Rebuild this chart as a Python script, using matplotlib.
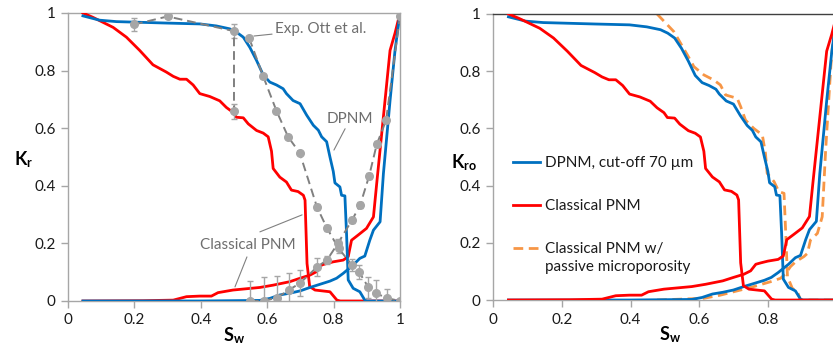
import matplotlib
matplotlib.use("Agg")
import matplotlib.pyplot as plt
from matplotlib.lines import Line2D

plt.rcParams['font.family'] = ['Lato', 'DejaVu Sans']
plt.rcParams['mathtext.fontset'] = 'custom'
plt.rcParams['mathtext.rm'] = 'Lato'
plt.rcParams['mathtext.bf'] = 'Lato:bold'
plt.rcParams['mathtext.it'] = 'Lato:italic'

# ---------------- data ----------------
# Classical PNM, oil relative permeability
sw_pnm_kro = [0.045, 0.075, 0.136, 0.176, 0.216, 0.256, 0.296, 0.317, 0.337, 0.357, 0.377, 0.397,
              0.427, 0.457, 0.477, 0.497, 0.507, 0.528, 0.543, 0.568, 0.588, 0.603, 0.613, 0.618,
              0.638, 0.658, 0.673, 0.693, 0.709, 0.714, 0.72, 0.728, 0.744, 0.789, 0.81, 0.82, 1.0]
kro_pnm = [1.0, 0.985, 0.95, 0.916, 0.87, 0.82, 0.795, 0.78, 0.77, 0.77, 0.75, 0.72,
           0.71, 0.695, 0.672, 0.655, 0.638, 0.636, 0.615, 0.592, 0.583, 0.57, 0.52, 0.46,
           0.43, 0.413, 0.385, 0.38, 0.367, 0.35, 0.13, 0.05, 0.038, 0.032, 0.003, 0.0, 0.0]
# Classical PNM, water relative permeability
sw_pnm_krw = [0.045, 0.226, 0.317, 0.357, 0.397, 0.432, 0.452, 0.497, 0.578, 0.618, 0.668, 0.699,
              0.729, 0.749, 0.764, 0.779, 0.799, 0.829, 0.844, 0.854, 0.874, 0.899, 0.92, 0.93,
              0.95, 0.97, 0.985, 1.0]
krw_pnm = [0.0, 0.001, 0.003, 0.015, 0.017, 0.017, 0.029, 0.038, 0.047, 0.055, 0.067, 0.079,
           0.09, 0.102, 0.125, 0.13, 0.136, 0.142, 0.154, 0.211, 0.229, 0.252, 0.292, 0.41,
           0.64, 0.87, 0.93, 1.0]
# DPNM (cut-off 70 um), oil
sw_dp_kro = [0.045, 0.095, 0.146, 0.296, 0.397, 0.447, 0.487, 0.508, 0.528, 0.548, 0.568, 0.588,
             0.608, 0.628, 0.648, 0.658, 0.678, 0.699, 0.719, 0.739, 0.754, 0.764, 0.779, 0.789,
             0.799, 0.804, 0.819, 0.824, 0.834, 0.839, 0.844, 0.859, 0.879, 0.894, 0.9, 1.0]
kro_dp = [0.99, 0.975, 0.97, 0.965, 0.962, 0.955, 0.945, 0.933, 0.916, 0.88, 0.835, 0.785,
          0.76, 0.75, 0.737, 0.72, 0.696, 0.685, 0.645, 0.61, 0.593, 0.57, 0.553, 0.5,
          0.45, 0.41, 0.396, 0.367, 0.365, 0.234, 0.073, 0.044, 0.032, 0.003, 0.0, 0.0]
# DPNM, water
sw_dp_krw = [0.045, 0.397, 0.578, 0.608, 0.638, 0.668, 0.699, 0.729, 0.759, 0.789, 0.809, 0.829,
             0.859, 0.879, 0.894, 0.909, 0.92, 0.94, 0.95, 0.97, 0.985, 1.0]
krw_dp = [0.0, 0.0, 0.002, 0.009, 0.021, 0.027, 0.035, 0.047, 0.058, 0.069, 0.079, 0.096,
          0.125, 0.148, 0.156, 0.211, 0.246, 0.275, 0.442, 0.696, 0.87, 1.0]
# Classical PNM with passive microporosity, oil
sw_mp_kro = [0.477, 0.526, 0.565, 0.584, 0.613, 0.642, 0.661, 0.676, 0.71, 0.72, 0.734, 0.758,
             0.783, 0.792, 0.797, 0.817, 0.831, 0.846, 0.851, 0.856, 0.87, 0.885, 0.894, 1.0]
kro_mp = [1.0, 0.938, 0.857, 0.816, 0.787, 0.769, 0.752, 0.717, 0.705, 0.676, 0.629, 0.6,
          0.577, 0.513, 0.443, 0.414, 0.379, 0.373, 0.233, 0.082, 0.041, 0.029, 0.0, 0.0]
# Classical PNM with passive microporosity, water
sw_mp_krw = [0.477, 0.613, 0.661, 0.7, 0.72, 0.758, 0.807, 0.836, 0.851, 0.865, 0.88, 0.904,
             0.914, 0.923, 0.943, 0.957, 0.967, 0.982, 0.991, 1.0]
krw_mp = [0.0, 0.006, 0.017, 0.029, 0.035, 0.047, 0.064, 0.076, 0.093, 0.117, 0.134, 0.152,
          0.163, 0.21, 0.233, 0.291, 0.524, 0.816, 0.944, 1.0]
# Experiments (Ott et al.)
exp_sw_kro_a = [0.199, 0.3, 0.5, 0.5]
exp_kro_a = [0.96, 0.988, 0.937, 0.658]
exp_err_kro_a = [0.022, 0.005, 0.025, 0.025]
exp_sw_kro_b = [0.546, 0.588, 0.628, 0.663, 0.698, 0.75, 0.78, 0.815, 0.855, 0.877, 0.905, 0.928, 0.96, 1.0]
exp_kro_b = [0.912, 0.78, 0.66, 0.57, 0.514, 0.326, 0.253, 0.183, 0.125, 0.1, 0.047, 0.027, 0.01, 0.0]
exp_err_kro_b = [0.005, 0.005, 0.005, 0.005, 0.005, 0.01, 0.01, 0.015, 0.02, 0.025, 0.035, 0.045, 0.03, 0.0]
exp_sw_krw = [0.548, 0.59, 0.63, 0.665, 0.699, 0.75, 0.78, 0.813, 0.855, 0.88, 0.907, 0.93, 0.958, 1.0]
exp_krw = [0.0, 0.0, 0.012, 0.038, 0.062, 0.118, 0.142, 0.2, 0.28, 0.333, 0.434, 0.544, 0.627, 0.99]
exp_err_krw = [0.07, 0.085, 0.075, 0.058, 0.045, 0.03, 0.015, 0.015, 0.01, 0.01, 0.01, 0.01, 0.01, 0.01]

ticks = [0, 0.2, 0.4, 0.6, 0.8, 1]
tick_labels = ['0', '0.2', '0.4', '0.6', '0.8', '1']
legend_labels = ['DPNM, cut-off 70 µm', 'Classical PNM', 'Classical PNM w/']
legend_label_2nd_line = 'passive microporosity'

BLUE = '#0070C0'
RED = '#FF0000'
ORANGE = '#F79646'
GRAY_M = '#A6A6A6'
GRAY_L = '#808080'
TXT_G = '#6E6E6E'
SPINE = '#A6A6A6'

fig = plt.figure(figsize=(8.33, 3.47), dpi=100)
axL = fig.add_axes([0.0816, 0.1326, 0.3986, 0.830])
axR = fig.add_axes([0.5918, 0.1354, 0.4130, 0.8243])

def style(ax, nx):
    ax.set_xlim(0, 1)
    ax.set_ylim(0, 1)
    ax.set_xticks(ticks[:nx])
    ax.set_xticklabels(tick_labels[:nx])
    ax.set_yticks(ticks)
    ax.set_yticklabels(tick_labels)
    ax.tick_params(axis='both', direction='out', length=5, width=1, color=SPINE,
                   labelsize=11, labelcolor='#1a1a1a', pad=4)
    for s in ax.spines.values():
        s.set_color(SPINE)
        s.set_linewidth(1)

# ---------- left panel ----------
style(axL, 6)
lw = 2.0
axL.plot(sw_pnm_kro, kro_pnm, color=RED, lw=lw, zorder=3)
axL.plot(sw_pnm_krw, krw_pnm, color=RED, lw=lw, zorder=3)
axL.plot(sw_dp_kro, kro_dp, color=BLUE, lw=lw, zorder=3)
axL.plot(sw_dp_krw, krw_dp, color=BLUE, lw=lw, zorder=3)
for xs, ys, es in [(exp_sw_kro_a, exp_kro_a, exp_err_kro_a),
                   (exp_sw_kro_b, exp_kro_b, exp_err_kro_b),
                   (exp_sw_krw, exp_krw, exp_err_krw)]:
    axL.errorbar(xs, ys, yerr=es, fmt='none', ecolor=GRAY_M, elinewidth=1, capsize=2.5,
                 capthick=1, zorder=4)
    axL.plot(xs, ys, color=GRAY_L, lw=1.4, ls=(0, (4.5, 2.5)), zorder=4)
    axL.plot(xs, ys, ls='none', marker='o', ms=5.5, mfc=GRAY_M, mec=GRAY_M, zorder=5)

ann = dict(arrowstyle='-', color=GRAY_L, lw=0.8, shrinkA=0, shrinkB=0)
axL.annotate('Exp. Ott et al.', xy=(0.56, 0.92), xytext=(0.623, 0.944), fontsize=11,
             color=TXT_G, va='center', ha='left', arrowprops=ann)
axL.annotate('DPNM', xy=(0.801, 0.524), xytext=(0.78, 0.632), fontsize=11,
             color=TXT_G, va='center', ha='left', arrowprops=dict(ann))
axL.text(0.398, 0.194, 'Classical PNM', fontsize=11, color=TXT_G, va='center', ha='left')
axL.annotate('', xy=(0.705, 0.299), xytext=(0.578, 0.24), arrowprops=dict(ann))
axL.annotate('', xy=(0.503, 0.049), xytext=(0.539, 0.153), arrowprops=dict(ann))

axL.set_ylabel(r'$\mathbf{K}_\mathbf{r}$', rotation=0, fontsize=13, va='center')
axL.yaxis.set_label_coords(-0.135, 0.49)
axL.set_xlabel(r'$\mathbf{S}_\mathbf{w}$', fontsize=13)
axL.xaxis.set_label_coords(0.5, -0.085)

# ---------- right panel ----------
style(axR, 5)
axR.spines['right'].set_visible(False)
axR.spines['top'].set_color('#404040')
axR.plot(sw_mp_kro, kro_mp, color=ORANGE, lw=lw, ls=(0, (3.5, 2)), zorder=2)
axR.plot(sw_mp_krw, krw_mp, color=ORANGE, lw=lw, ls=(0, (3.5, 2)), zorder=2)
l1, = axR.plot(sw_dp_kro, kro_dp, color=BLUE, lw=lw, zorder=3)
axR.plot(sw_dp_krw, krw_dp, color=BLUE, lw=lw, zorder=3)
l2, = axR.plot(sw_pnm_kro, kro_pnm, color=RED, lw=lw, zorder=3)
axR.plot(sw_pnm_krw, krw_pnm, color=RED, lw=lw, zorder=3)
l3 = Line2D([], [], color=ORANGE, lw=lw, ls=(0, (3.5, 2)))
leg = axR.legend([l1, l2, l3], legend_labels,
                 loc='upper left', bbox_to_anchor=(0.037, 0.53), frameon=False, fontsize=11,
                 handlelength=1.75, handletextpad=0.3, labelspacing=1.9, borderpad=0)
for t in leg.get_texts():
    t.set_color('#1a1a1a')
fig.canvas.draw()
# second line of the third legend label, placed right under the first line
t3 = leg.get_texts()[2]
bb = t3.get_window_extent().transformed(axR.transAxes.inverted())
axR.text(bb.x0, bb.y0 - 0.012, legend_label_2nd_line, transform=axR.transAxes,
         fontsize=11, color='#1a1a1a', va='top', ha='left')

axR.set_ylabel(r'$\mathbf{K}_\mathbf{ro}$', rotation=0, fontsize=13, va='center')
axR.yaxis.set_label_coords(-0.085, 0.48)
axR.set_xlabel(r'$\mathbf{S}_\mathbf{w}$', fontsize=13)
axR.xaxis.set_label_coords(0.515, -0.085)

fig.savefig('out.png', dpi=100)
